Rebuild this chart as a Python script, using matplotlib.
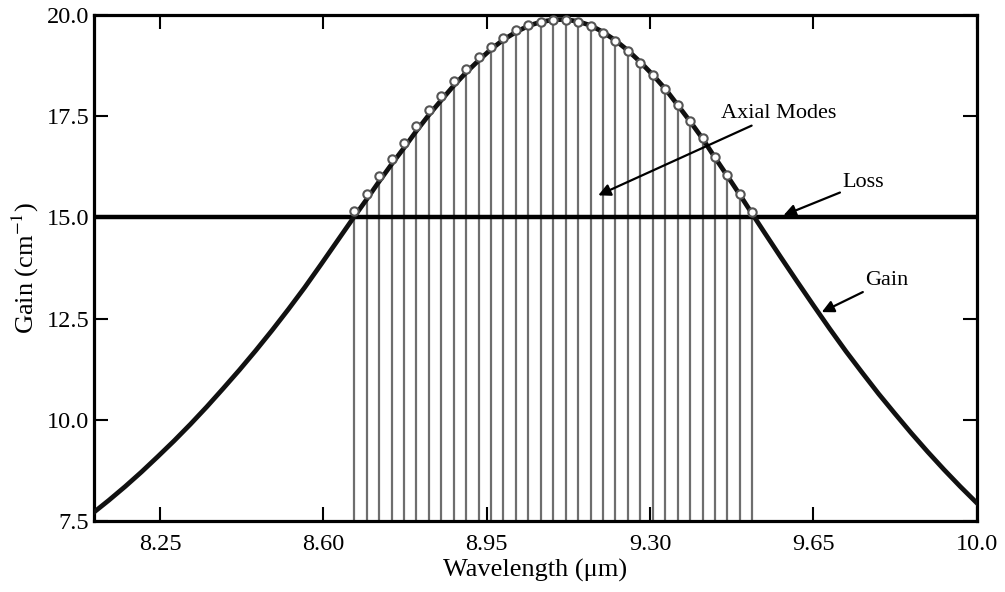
import matplotlib
matplotlib.use("Agg")
import matplotlib.pyplot as plt

plt.rcParams["font.family"] = ["Liberation Serif", "DejaVu Serif"]
plt.rcParams["mathtext.fontset"] = "stix"

# gain profile (cm^-1) against wavelength (um)
wl = [8.1075, 8.14, 8.175, 8.21, 8.245, 8.28, 8.315, 8.35, 8.385, 8.42,
      8.455, 8.49, 8.525, 8.56, 8.595, 8.63, 8.665, 8.693, 8.719, 8.746,
      8.773, 8.799, 8.826, 8.853, 8.879, 8.906, 8.933, 8.959, 8.986, 9.013,
      9.039, 9.066, 9.093, 9.119, 9.146, 9.173, 9.199, 9.226, 9.253, 9.279,
      9.306, 9.333, 9.359, 9.386, 9.413, 9.439, 9.466, 9.493, 9.52, 9.545,
      9.58, 9.615, 9.65, 9.685, 9.72, 9.755, 9.79, 9.825, 9.86, 9.895, 9.93,
      9.965, 10.0]
gain = [7.71, 8.01, 8.35, 8.71, 9.09, 9.48, 9.89, 10.32, 10.77, 11.23,
        11.71, 12.21, 12.73, 13.27, 13.84, 14.42, 15.00, 15.45, 15.88, 16.31,
        16.72, 17.13, 17.53, 17.90, 18.25, 18.58, 18.88, 19.15, 19.39, 19.58,
        19.73, 19.83, 19.88, 19.89, 19.84, 19.74, 19.58, 19.37, 19.12, 18.84,
        18.52, 18.17, 17.78, 17.37, 16.94, 16.48, 16.02, 15.55, 15.07, 14.63,
        14.02, 13.42, 12.83, 12.25, 11.69, 11.16, 10.64, 10.15, 9.67, 9.21,
        8.77, 8.35, 7.95]

loss = 15.0

# longitudinal cavity modes above threshold
mode_wl = [8.666, 8.693, 8.719, 8.746, 8.773, 8.799, 8.826, 8.853, 8.879,
           8.906, 8.933, 8.959, 8.986, 9.013, 9.039, 9.066, 9.093, 9.119,
           9.146, 9.173, 9.199, 9.226, 9.253, 9.279, 9.306, 9.333, 9.359,
           9.386, 9.413, 9.439, 9.466, 9.493, 9.519]
mode_gain = [15.16, 15.59, 16.02, 16.44, 16.84, 17.26, 17.65, 18.00, 18.37,
             18.67, 18.97, 19.22, 19.44, 19.62, 19.75, 19.83, 19.88, 19.88,
             19.82, 19.72, 19.55, 19.35, 19.10, 18.82, 18.51, 18.16, 17.77,
             17.37, 16.95, 16.50, 16.05, 15.59, 15.14]

xticks = [8.25, 8.60, 8.95, 9.30, 9.65, 10.0]
xticklabels = ["8.25", "8.60", "8.95", "9.30", "9.65", "10.0"]
yticks = [7.5, 10.0, 12.5, 15.0, 17.5, 20.0]
yticklabels = ["7.5", "10.0", "12.5", "15.0", "17.5", "20.0"]

fig = plt.figure(figsize=(10.05, 5.92), dpi=100)
ax = fig.add_axes([0.0931, 0.1199, 0.8787, 0.8548])

ax.vlines(mode_wl, 7.5, mode_gain, color="#6e6e6e", lw=1.6, zorder=1)
ax.axhline(loss, color="black", lw=3.2, zorder=2)
ax.plot(wl, gain, color="#111111", lw=3.4, zorder=3,
        solid_joinstyle="round")
ax.plot(mode_wl, mode_gain, "o", mfc="white", mec="#555555", ms=6,
        mew=1.5, zorder=4)

ax.set_xlim(8.1075, 10.0)
ax.set_ylim(7.5, 20.0)
ax.set_xticks(xticks)
ax.set_xticklabels(xticklabels)
ax.set_yticks(yticks)
ax.set_yticklabels(yticklabels)
ax.tick_params(direction="in", top=True, right=True, length=10, width=1.5,
               labelsize=17.5)
ax.tick_params(axis="x", pad=9)
ax.tick_params(axis="y", pad=3)
for sp in ax.spines.values():
    sp.set_linewidth(2.3)

ax.set_xlabel("Wavelength (\u03bcm)", fontsize=19, labelpad=3)
ax.set_ylabel(r"Gain (cm$^{-1}$)", fontsize=19, labelpad=4)

arrow = dict(arrowstyle="-|>", color="black", lw=1.6, mutation_scale=18,
             shrinkA=0, shrinkB=0)
ax.annotate("Axial Modes", xy=(9.189, 15.545), xytext=(9.452, 17.57),
            fontsize=16, va="center", ha="left", arrowprops=arrow)
ax.annotate("Loss", xy=(9.586, 15.05), xytext=(9.713, 15.85),
            fontsize=16, va="center", ha="left", arrowprops=arrow)
ax.annotate("Gain", xy=(9.668, 12.66), xytext=(9.762, 13.45),
            fontsize=16, va="center", ha="left", arrowprops=arrow)

fig.savefig("out.png", dpi=100)
